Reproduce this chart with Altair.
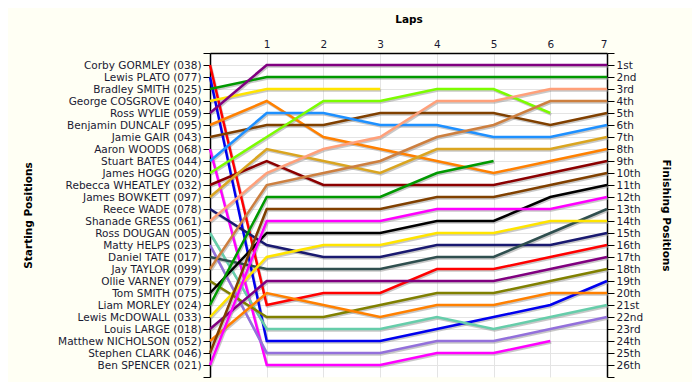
import json
import altair as alt
import pandas as pd

drivers = [
    "Corby GORMLEY (038)", "Lewis PLATO (077)", "Bradley SMITH (025)", "George COSGROVE (040)",
    "Ross WYLIE (059)", "Benjamin DUNCALF (095)", "Jamie GAIR (043)", "Aaron WOODS (068)",
    "Stuart BATES (044)", "James HOGG (020)", "Rebecca WHEATLEY (032)", "James BOWKETT (097)",
    "Reece WADE (078)", "Shanade GRESS (061)", "Ross DOUGAN (005)", "Matty HELPS (023)",
    "Daniel TATE (017)", "Jay TAYLOR (099)", "Ollie VARNEY (079)", "Tom SMITH (075)",
    "Liam MORLEY (024)", "Lewis McDOWALL (033)", "Louis LARGE (018)", "Matthew NICHOLSON (052)",
    "Stephen CLARK (046)", "Ben SPENCER (021)",
]
colors = [
    "#FF0000", "#0000EE", "#009900", "#FFE400", "#800080", "#FF8000", "#804000", "#FF00FF",
    "#1E90FF", "#7CFC00", "#8B0000", "#DAA520", "#191970", "#FFA07A", "#66CDAA", "#9370DB",
    "#2F4F4F", "#CD7F3F", "#808000", "#000000", "#009900", "#FFE400", "#800080", "#FF8000",
    "#804000", "#FF00FF",
]
ordinals = [
    "1st", "2nd", "3rd", "4th", "5th", "6th", "7th", "8th", "9th", "10th", "11th", "12th", "13th",
    "14th", "15th", "16th", "17th", "18th", "19th", "20th", "21st", "22nd", "23rd", "24th", "25th", "26th",
]
lap_ticks = [0, 1, 2, 3, 4, 5, 6, 7]

# running order at each lap, listed by starting position number
lap0 = list(range(1, 27))
lap1 = [5, 3, 4, 6, 9, 7, 10, 12, 11, 14, 18, 21, 25, 26, 20, 13, 22, 17, 23, 24, 1, 19, 15, 2, 16, 8]
lap2 = [5, 3, 4, 10, 9, 7, 6, 14, 12, 18, 11, 21, 25, 26, 20, 22, 13, 17, 23, 1, 24, 19, 15, 2, 16, 8]
lap3 = [5, 3, 4, 10, 7, 9, 14, 6, 18, 12, 11, 21, 25, 26, 20, 22, 13, 17, 23, 1, 19, 24, 15, 2, 16, 8]
lap4 = [5, 3, 10, 14, 7, 9, 18, 12, 6, 21, 11, 25, 26, 20, 22, 13, 17, 1, 23, 19, 24, 15, 2, 16, 8]
lap5 = [5, 3, 10, 14, 7, 18, 9, 12, 21, 6, 11, 25, 26, 20, 22, 13, 17, 1, 23, 19, 24, 2, 15, 16, 8]
lap6 = [5, 3, 14, 18, 10, 7, 9, 12, 6, 11, 25, 20, 26, 22, 17, 13, 1, 23, 19, 24, 2, 15, 16, 8]
lap7 = [5, 3, 14, 18, 7, 9, 12, 6, 11, 25, 20, 26, 17, 22, 13, 1, 23, 19, 2, 24, 15, 16]
running_order = [lap0, lap1, lap2, lap3, lap4, lap5, lap6, lap7]

rows = []
for lap, order in enumerate(running_order):
    for pos, start in enumerate(order, start=1):
        rows.append({"driver": drivers[start - 1], "start": start, "lap": lap, "pos": pos})
df = pd.DataFrame(rows)

FONT = "DejaVu Sans"
TXT = "#1a1a33"

name_expr = "[''," + ",".join(json.dumps(n) for n in drivers) + ",''][datum.value]"
ord_expr = "[''," + ",".join(json.dumps(o) for o in ordinals) + ",''][datum.value]"
edge_test = "datum.value == 0 || datum.value == 27"

x_enc = alt.X(
    "lap:Q",
    scale=alt.Scale(domain=[0, 7], nice=False, zero=False),
    axis=alt.Axis(
        orient="top", values=lap_ticks, title="Laps",
        labelExpr="datum.value == 0 ? '' : datum.label",
        ticks=False, labelPadding=4, grid=True, gridColor="#e4e4e4",
        domainColor="#000000", domainWidth=1.5,
        labelFont=FONT, labelFontSize=10.5, labelColor=TXT,
        titleFont=FONT, titleFontSize=10.5, titleFontWeight="bold", titleColor="#000000",
        titleX=198.5, titleY=-34, titleAlign="center", titleBaseline="middle",
    ),
)

yscale = alt.Scale(domain=[0, 27], reverse=True, nice=False, zero=False)
pos_values = list(range(0, 28))

shadow = alt.Chart(df).mark_line(
    color="#9a9a9a", strokeWidth=2.5, opacity=0.55, xOffset=1, yOffset=1.5
).encode(
    x=x_enc,
    y=alt.Y("pos:Q", scale=yscale, axis=None),
    detail="driver:N",
    order="lap:Q",
)

lines = alt.Chart(df).mark_line(strokeWidth=2.5).encode(
    x=x_enc,
    y=alt.Y(
        "pos:Q", scale=yscale,
        axis=alt.Axis(
            orient="left", values=pos_values, labelExpr=name_expr, title="Starting Positions",
            tickSize=7, tickColor="#000000", domainColor="#000000", domainWidth=1.5, labelPadding=2,
            grid=True,
            gridColor={"condition": {"test": edge_test, "value": "transparent"}, "value": "#e4e4e4"},
            labelFont=FONT, labelFontSize=10.5, labelColor=TXT,
            titleFont=FONT, titleFontSize=10.5, titleFontWeight="bold", titleColor="#000000",
            titleX=-182, titleY=162, titleAlign="center", titleBaseline="middle", titleAngle=270,
        ),
    ),
    color=alt.Color("driver:N", scale=alt.Scale(domain=drivers, range=colors), legend=None),
    detail="driver:N",
    order="lap:Q",
)

right = alt.Chart(df).mark_line(opacity=0).encode(
    x=x_enc,
    y=alt.Y(
        "pos:Q", scale=yscale,
        axis=alt.Axis(
            orient="right", values=pos_values, labelExpr=ord_expr, title="Finishing Positions",
            tickSize=7, tickColor="#000000", domainColor="#000000", domainWidth=1.5, labelPadding=2,
            grid=False,
            labelFont=FONT, labelFontSize=10.5, labelColor=TXT,
            titleFont=FONT, titleFontSize=10.5, titleFontWeight="bold", titleColor="#000000",
            titleX=58, titleY=162, titleAlign="center", titleBaseline="middle", titleAngle=90,
        ),
    ),
    detail="driver:N",
)

chart = alt.layer(shadow, lines, right).resolve_scale(y="independent").properties(
    width=397, height=324,
    padding={"left": 202, "top": 45, "right": 85, "bottom": 5},
    autosize=alt.AutoSizeParams(type="none"),
    background="#FFFFF4",
).configure_view(stroke=None, fill="#FFFFFF")

chart.save("out.html", embed_options={"renderer": "svg", "actions": False})
